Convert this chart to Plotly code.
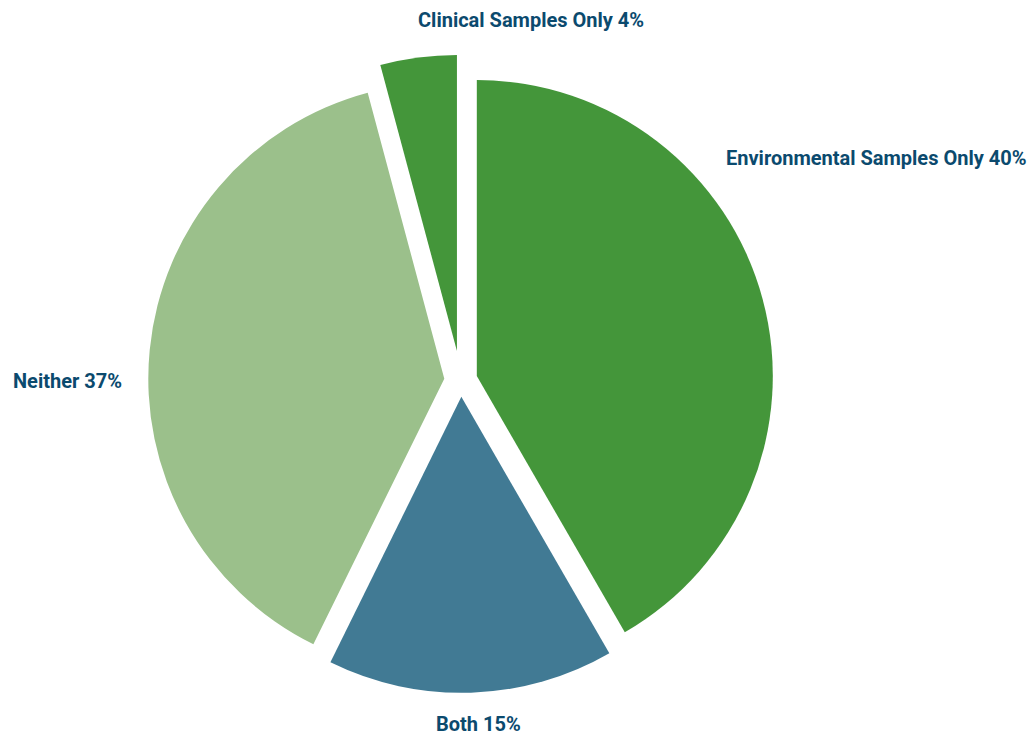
import plotly.graph_objects as go

labels = ["Environmental Samples Only", "Both", "Neither", "Clinical Samples Only"]
values = [40, 15, 37, 4]
colors = ["#44963a", "#417a94", "#9bc08b", "#44963a"]
pulls = [0.056, 0.056, 0.056, 0.1]

W, H = 1032, 738
FONT = "Roboto, Liberation Sans, sans-serif"
TEXT_COLOR = "#0b4a6e"

# pie centre and half-size of the domain box, in pixels
CX, CY, HALF = 460.8, 380.3, 296 * (1 + max(pulls))

# label anchor positions (pixels) -> paper coords, with vertical anchors
label_pos = [(876, 158, "middle"), (478, 738, "bottom"), (67, 381, "middle"), (531, 20, "middle")]

fig = go.Figure(go.Pie(
    labels=labels,
    values=values,
    marker=dict(colors=colors, line=dict(width=0)),
    pull=pulls,
    sort=False,
    direction="clockwise",
    rotation=0,
    textinfo="none",
    hoverinfo="label+percent",
    domain=dict(x=[(CX - HALF) / W, (CX + HALF) / W],
                y=[(H - (CY + HALF)) / H, (H - (CY - HALF)) / H]),
))

for lab, val, (px, py, ya) in zip(labels, values, label_pos):
    fig.add_annotation(
        x=px / W, y=1 - py / H, xref="paper", yref="paper",
        text=f"<b>{lab} {val}%</b>", showarrow=False,
        font=dict(family=FONT, size=20, color=TEXT_COLOR),
        xanchor="center", yanchor=ya,
    )

fig.update_layout(
    width=W, height=H,
    margin=dict(l=0, r=0, t=0, b=0),
    paper_bgcolor="white", plot_bgcolor="white",
    showlegend=False,
)

fig.write_html("out.html")
